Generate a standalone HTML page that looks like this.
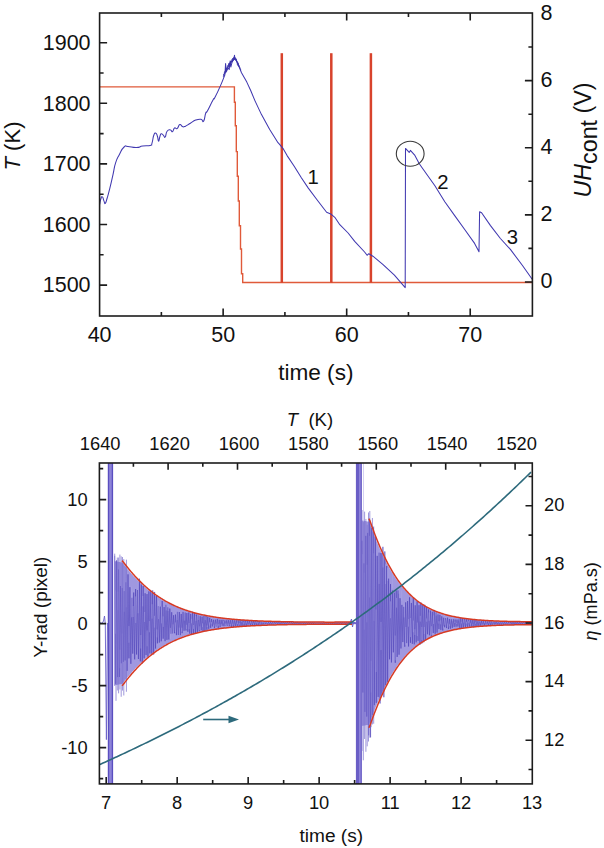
<!DOCTYPE html>
<html><head><meta charset="utf-8"><style>
html,body{margin:0;padding:0;background:#fff;}
body{width:604px;height:848px;overflow:hidden;font-family:"Liberation Sans",sans-serif;}
svg{display:block;}
</style></head><body>
<svg width="604" height="848" viewBox="0 0 604 848">
<rect width="604" height="848" fill="#fff"/>
<clipPath id="c1"><rect x="99.6" y="13.0" width="432.79999999999995" height="303.0"/></clipPath>
<g clip-path="url(#c1)">
<path d="M99.6 86.9 L234.4 86.9 L234.4 102.2 L235.3 102.2 L235.3 125.7 L236.3 125.7 L236.3 151.6 L237.3 151.6 L237.3 176.3 L238.3 176.3 L238.3 201 L239.3 201 L239.3 225.7 L240.5 225.7 L240.5 249 L241.5 249 L241.5 273.8 L242.7 273.8 L242.7 282.5 L243.8 282.5 L532.4 282.5" fill="none" stroke="#e05a3a" stroke-width="1.4"/>
<rect x="280.55" y="53.2" width="2.5" height="229.4" fill="#d8432c"/>
<rect x="330.05" y="53.2" width="2.5" height="229.4" fill="#d8432c"/>
<rect x="369.65" y="53.2" width="2.5" height="229.4" fill="#d8432c"/>
<path d="M99.7 204.3 C100.03 202.71 99.99 201.22 100.8 199 C101.61 196.78 101.44 196.27 102.4 196.9 C103.36 197.53 103.13 199.18 104 201.1 C104.87 203.02 104.34 204.23 105.3 203.3 C106.26 202.37 105.85 202.47 107.2 198 C108.55 193.53 108.06 195.42 109.8 188.4 C111.54 181.38 111.26 182.25 113 174.6 C114.74 166.95 113.68 168.96 115.6 162.9 C117.52 156.84 116.85 159.17 119.4 154.4 C121.95 149.63 121.55 149.37 124.1 147 C126.65 144.63 124.21 146.35 127.9 146.5 C131.59 146.65 131.96 147.62 136.4 147.5 C140.84 147.38 138.56 146.73 142.7 146.1 C146.84 145.47 147.41 146.3 150.2 145.4 C152.99 144.5 150.92 146.16 152 143.1 C153.08 140.04 152.63 138.14 153.8 135.2 C154.97 132.26 154.79 132.91 155.9 133.3 C157.01 133.69 156.69 134.1 157.5 136.5 C158.31 138.9 157.88 141.3 158.6 141.3 C159.32 141.3 159.12 138.75 159.9 136.5 C160.68 134.25 160.18 134.19 161.2 133.8 C162.22 133.41 162.1 134.24 163.3 135.2 C164.5 136.16 164.06 138.2 165.2 137 C166.34 135.8 165.51 133.33 167.1 131.2 C168.69 129.07 168.91 129.75 170.5 129.9 C172.09 130.05 171.2 132.27 172.4 131.7 C173.6 131.13 173.09 128.96 174.5 128 C175.91 127.04 175.51 129.52 177.1 128.5 C178.69 127.48 178.21 125.23 179.8 124.6 C181.39 123.97 180.81 125.86 182.4 126.4 C183.99 126.94 182.7 127.36 185.1 126.4 C187.5 125.44 187.22 125.09 190.4 123.2 C193.58 121.31 192.52 121.27 195.7 120.1 C198.88 118.93 198.63 119 201 119.3 C203.37 119.6 202.19 122.93 203.6 121.1 C205.01 119.27 204.56 116.26 205.7 113.2 C206.84 110.14 205.21 114.86 207.4 110.9 C209.59 106.94 210.72 104.08 213 100 C215.28 95.92 212.81 101.47 215 97.3 C217.19 93.13 217.33 92.85 220.3 86.1 C223.27 79.35 223.52 78.19 224.9 74.8" fill="none" stroke="#4038b0" stroke-width="1.05" stroke-linejoin="round"/>
<path d="M224.9 74.8 L225.6 63.5 L226.2 72 L228 68 L229.2 69.5 L230.2 60.9 L230.8 67 L232.2 61.6 L233.5 60 L234.5 55.3 L234.9 59.6 L236 60 L237.8 63.5 L241.5 72.8 L246.8 82.1 L250.8 90.7 L254.9 100.6 L261.5 114.6 L269.7 129.5 L278 142.7 L279.6 144.3 L283.5 149.2 L287.1 155.6 L294.2 166.2 L301.2 177.5 L308.3 188.1 L316.8 199.5 L326.6 212.3 L330.7 213.9 L334.8 217.3 L339.8 224.7 L348.1 233 L354.7 241.3 L364.6 252 L367.1 255.3 L368.8 253.7 L372.9 256.2 L382.8 264.4 L394.4 275.2 L405.2 287.6 L405.5 148.4 L409.2 152.4 L410.4 150.4 L414.9 155.4 L419.3 163.8 L422.8 168.8 L434.9 185.8 L444.8 201.7 L454.7 215.6 L464.7 229.5 L474.6 243.4 L479 251.8 L479.6 211.7 L481.6 212.7 L490.5 225.6 L500.4 238.5 L510.4 249.4 L522.3 265.3 L532.2 279.2" fill="none" stroke="#4038b0" stroke-width="1.05" stroke-linejoin="round"/>
<path d="M223 76.56 L223.35 76.87 L223.7 74.19 L224.05 74.91 L224.4 72.47 L224.75 74.15 L225.1 71.02 L225.45 72.76 L225.8 68.7 L226.15 70.98 L226.5 67.93 L226.85 69.47 L227.2 66.73 L227.55 68.45 L227.9 65.27 L228.25 67.43 L228.6 63.61 L228.95 66.64 L229.3 63 L229.65 65.86 L230 62.49 L230.35 63.96 L230.7 61.05 L231.05 62.79 L231.4 60.66 L231.75 62.29 L232.1 59.16 L232.45 61.79 L232.8 58.09 L233.15 60.55 L233.5 57.57 L233.85 59.72 L234.2 57.77 L234.55 59.48 L234.9 57.08 L235.25 59.91 L235.6 58.17 L235.95 60.67 L236.3 58.83 L236.65 62.17 L237 60.9 L237.35 64.47 L237.7 62.08 L238.05 65.79 L238.4 63.46 L238.75 66.65 L239.1 65.61 L239.45 67.61 L239.8 67.13 L240.15 68.95 L240.5 69.07 L240.85 70.18" fill="none" stroke="#3a32a8" stroke-width="0.8"/>
</g>
<ellipse cx="410.2" cy="153.8" rx="13.9" ry="12.5" fill="none" stroke="#3a3a3a" stroke-width="1.1"/>
<rect x="99.6" y="13.0" width="432.79999999999995" height="303.0" fill="none" stroke="#1c1c1c" stroke-width="1.6"/>
<path d="M99.6 285.1 h7.5 M99.6 254.8 h4 M99.6 224.5 h7.5 M99.6 194.2 h4 M99.6 163.9 h7.5 M99.6 133.6 h4 M99.6 103.3 h7.5 M99.6 73 h4 M99.6 42.7 h7.5 M532.4 281.98 h-7.5 M532.4 248.42 h-4 M532.4 214.86 h-7.5 M532.4 181.3 h-4 M532.4 147.74 h-7.5 M532.4 114.18 h-4 M532.4 80.62 h-7.5 M532.4 47.06 h-4 M161.37 316 v-4 M161.37 13 v4 M223.14 316 v-7.5 M223.14 13 v7.5 M284.91 316 v-4 M284.91 13 v4 M346.68 316 v-7.5 M346.68 13 v7.5 M408.45 316 v-4 M408.45 13 v4 M470.22 316 v-7.5 M470.22 13 v7.5" stroke="#1c1c1c" stroke-width="1.6" fill="none"/>
<g font-family="Liberation Sans, sans-serif" font-size="21.5" fill="#111">
<text x="90.6" y="292.3" text-anchor="end">1500</text>
<text x="90.6" y="231.7" text-anchor="end">1600</text>
<text x="90.6" y="171.1" text-anchor="end">1700</text>
<text x="90.6" y="110.5" text-anchor="end">1800</text>
<text x="90.6" y="49.9" text-anchor="end">1900</text>
<text x="540.5" y="288.38">0</text>
<text x="540.5" y="221.26">2</text>
<text x="540.5" y="154.14">4</text>
<text x="540.5" y="87.02">6</text>
<text x="540.5" y="19.9">8</text>
<text x="99.6" y="342.2" text-anchor="middle">40</text>
<text x="223.14" y="342.2" text-anchor="middle">50</text>
<text x="346.68" y="342.2" text-anchor="middle">60</text>
<text x="470.22" y="342.2" text-anchor="middle">70</text>
</g>
<g font-family="Liberation Sans, sans-serif" font-size="20.3" fill="#111">
<text x="313.2" y="184" text-anchor="middle">1</text><text x="442.9" y="188.6" text-anchor="middle">2</text><text x="512.5" y="243.6" text-anchor="middle">3</text>
</g>
<text font-family="Liberation Sans, sans-serif" font-size="22.6" fill="#111" x="315.8" y="379.5" text-anchor="middle">time (s)</text>
<text font-family="Liberation Sans, sans-serif" font-size="22.1" fill="#111" transform="translate(20.3 146) rotate(-90)" text-anchor="middle"><tspan font-style="italic">T</tspan> (K)</text>
<text font-family="Liberation Sans, sans-serif" font-size="23.3" fill="#111" transform="translate(591 140) rotate(-90)" text-anchor="middle"><tspan font-style="italic">UH</tspan><tspan dy="5.5">cont</tspan><tspan dy="-5.5"> (V)</tspan></text>
<clipPath id="c2"><rect x="99.4" y="463.0" width="432.9" height="320.9"/></clipPath>
<g clip-path="url(#c2)">
<path d="M99.6 623.2 L100.7 622.6 L102 623.5 L103.5 621 L104.5 616 L105.3 624 L106.4 739.6 L107.5 623" fill="none" stroke="#6a60c8" stroke-width="0.9"/>
<rect x="107.9" y="455" width="5.2" height="340" fill="#8d84d8"/>
<path d="M108.5 455 V795 M112.4 455 V795" stroke="#5a4ec0" stroke-width="1.3"/>
<path d="M114.7 561.1 L115.2 561.2 L115.7 561.29 L116.2 561.39 L116.7 561.49 L117.2 561.59 L117.7 561.68 L118.2 561.78 L118.7 561.88 L119.2 561.97 L119.7 562.07 L120.2 562.17 L120.7 562.26 L121.2 562.36 L121.7 562.46 L122.2 562.56 L122.7 563.09 L123.2 563.73 L123.7 564.37 L124.2 565.01 L124.7 565.64 L125.2 566.27 L125.7 566.89 L126.2 567.51 L126.7 568.12 L127.2 568.73 L127.7 569.33 L128.2 569.93 L128.7 570.52 L129.2 571.11 L129.7 571.69 L130.2 572.27 L130.7 572.85 L131.2 573.42 L131.7 573.98 L132.2 574.54 L132.7 575.1 L133.2 575.65 L133.7 576.19 L134.2 576.73 L134.7 577.27 L135.2 577.8 L135.7 578.32 L136.2 578.84 L136.7 579.36 L137.2 579.87 L137.7 580.38 L138.2 580.88 L138.7 581.38 L139.2 581.87 L139.7 582.36 L140.2 582.84 L140.7 583.32 L141.2 583.8 L141.7 584.27 L142.2 584.73 L142.7 585.19 L143.2 585.65 L143.7 586.1 L144.2 586.55 L144.7 586.99 L145.2 587.43 L145.7 587.86 L146.2 588.29 L146.7 588.72 L147.2 589.14 L147.7 589.55 L148.2 589.96 L148.7 590.37 L149.2 590.77 L149.7 591.17 L150.2 591.57 L150.7 591.96 L151.2 592.34 L151.7 592.73 L152.2 593.1 L152.7 593.48 L153.2 593.85 L153.7 594.21 L154.2 594.57 L154.7 594.93 L155.2 595.29 L155.7 595.64 L156.2 595.98 L156.7 596.32 L157.2 596.66 L157.7 597 L158.2 597.33 L158.7 597.65 L159.2 597.98 L159.7 598.3 L160.2 598.61 L160.7 598.92 L161.2 599.23 L161.7 599.54 L162.2 599.84 L162.7 600.14 L163.2 600.43 L163.7 600.72 L164.2 601.01 L164.7 601.29 L165.2 601.57 L165.7 601.85 L166.2 602.12 L166.7 602.39 L167.2 602.66 L167.7 602.93 L168.2 603.19 L168.7 603.45 L169.2 603.7 L169.7 603.95 L170.2 604.2 L170.7 604.45 L171.2 604.69 L171.7 604.93 L172.2 605.16 L172.7 605.4 L173.2 605.63 L173.7 605.86 L174.2 606.08 L174.7 606.3 L175.2 606.52 L175.7 606.74 L176.2 606.95 L176.7 607.16 L177.2 607.37 L177.7 607.58 L178.2 607.78 L178.7 607.98 L179.2 608.18 L179.7 608.38 L180.2 608.57 L180.7 608.76 L181.2 608.95 L181.7 609.13 L182.2 609.32 L182.7 609.5 L183.2 609.68 L183.7 609.85 L184.2 610.03 L184.7 610.2 L185.2 610.37 L185.7 610.53 L186.2 610.7 L186.7 610.86 L187.2 611.02 L187.7 611.18 L188.2 611.34 L188.7 611.49 L189.2 611.64 L189.7 611.8 L190.2 611.94 L190.7 612.09 L191.2 612.23 L191.7 612.38 L192.2 612.52 L192.7 612.66 L193.2 612.79 L193.7 612.93 L194.2 613.06 L194.7 613.19 L195.2 613.32 L195.7 613.45 L196.2 613.58 L196.7 613.7 L197.2 613.82 L197.7 613.95 L198.2 614.06 L198.7 614.18 L199.2 614.3 L199.7 614.41 L200.2 614.53 L200.7 614.64 L201.2 614.75 L201.7 614.86 L202.2 614.96 L202.7 615.07 L203.2 615.17 L203.7 615.28 L204.2 615.38 L204.7 615.48 L205.2 615.58 L205.7 615.67 L206.2 615.77 L206.7 615.86 L207.2 615.96 L207.7 616.05 L208.2 616.14 L208.7 616.23 L209.2 616.32 L209.7 616.4 L210.2 616.49 L210.7 616.58 L211.2 616.66 L211.7 616.74 L212.2 616.82 L212.7 616.9 L213.2 616.98 L213.7 617.06 L214.2 617.14 L214.7 617.21 L215.2 617.29 L215.7 617.36 L216.2 617.43 L216.7 617.5 L217.2 617.57 L217.7 617.64 L218.2 617.71 L218.7 617.78 L219.2 617.85 L219.7 617.91 L220.2 617.98 L220.7 618.04 L221.2 618.1 L221.7 618.16 L222.2 618.23 L222.7 618.29 L223.2 618.35 L223.7 618.4 L224.2 618.46 L224.7 618.52 L225.2 618.58 L225.7 618.63 L226.2 618.69 L226.7 618.74 L227.2 618.79 L227.7 618.84 L228.2 618.9 L228.7 618.95 L229.2 619 L229.7 619.05 L230.2 619.1 L230.7 619.14 L231.2 619.19 L231.7 619.24 L232.2 619.28 L232.7 619.33 L233.2 619.37 L233.7 619.42 L234.2 619.46 L234.7 619.5 L235.2 619.55 L235.7 619.59 L236.2 619.63 L236.7 619.67 L237.2 619.71 L237.7 619.75 L238.2 619.79 L238.7 619.83 L239.2 619.86 L239.7 619.9 L240.2 619.94 L240.7 619.97 L241.2 620.01 L241.7 620.05 L242.2 620.08 L242.7 620.11 L243.2 620.15 L243.7 620.18 L244.2 620.21 L244.7 620.25 L245.2 620.28 L245.7 620.31 L246.2 620.34 L246.7 620.37 L247.2 620.4 L247.7 620.43 L248.2 620.46 L248.7 620.49 L249.2 620.52 L249.7 620.54 L250.2 620.57 L250.7 620.6 L251.2 620.63 L251.7 620.65 L252.2 620.68 L252.7 620.7 L253.2 620.73 L253.7 620.75 L254.2 620.78 L254.7 620.8 L255.2 620.83 L255.7 620.85 L256.2 620.87 L256.7 620.9 L257.2 620.92 L257.7 620.94 L258.2 620.96 L258.7 620.98 L259.2 621.01 L259.7 621.03 L260.2 621.05 L260.7 621.07 L261.2 621.09 L261.7 621.11 L262.2 621.13 L262.7 621.15 L263.2 621.17 L263.7 621.18 L264.2 621.2 L264.7 621.22 L265.2 621.24 L265.7 621.26 L266.2 621.27 L266.7 621.29 L267.2 621.31 L267.7 621.32 L268.2 621.34 L268.7 621.36 L269.2 621.37 L269.7 621.39 L270.2 621.4 L270.7 621.42 L271.2 621.43 L271.7 621.45 L272.2 621.46 L272.7 621.48 L273.2 621.49 L273.7 621.5 L274.2 621.52 L274.7 621.53 L275.2 621.55 L275.7 621.56 L276.2 621.57 L276.7 621.58 L277.2 621.6 L277.7 621.61 L278.2 621.62 L278.7 621.63 L279.2 621.64 L279.7 621.66 L280.2 621.67 L280.7 621.68 L281.2 621.69 L281.7 621.7 L282.2 621.71 L282.7 621.72 L283.2 621.73 L283.7 621.74 L284.2 621.75 L284.7 621.76 L285.2 621.77 L285.7 621.78 L286.2 621.79 L286.7 621.8 L287.2 621.81 L287.7 621.82 L288.2 621.83 L288.7 621.84 L289.2 621.85 L289.7 621.85 L290.2 621.86 L290.7 621.87 L291.2 621.88 L291.7 621.89 L292.2 621.89 L292.7 621.9 L293.2 621.91 L293.7 621.92 L294.2 621.92 L294.7 621.93 L295.2 621.94 L295.7 621.94 L296.2 621.95 L296.7 621.96 L297.2 621.96 L297.7 621.97 L298.2 621.98 L298.7 621.98 L299.2 621.99 L299.7 621.99 L300.2 622 L300.7 622.01 L301.2 622.01 L301.7 622.02 L302.2 622.02 L302.7 622.03 L303.2 622.03 L303.7 622.04 L304.2 622.04 L304.7 622.05 L305.2 622.05 L305.7 622.06 L306.2 622.06 L306.7 622.07 L307.2 622.07 L307.7 622.07 L308.2 622.08 L308.7 622.08 L309.2 622.09 L309.7 622.09 L310.2 622.09 L310.7 622.1 L311.2 622.1 L311.7 622.1 L312.2 622.11 L312.7 622.11 L313.2 622.11 L313.7 622.12 L314.2 622.12 L314.7 622.12 L315.2 622.12 L315.7 622.13 L316.2 622.13 L316.7 622.13 L317.2 622.13 L317.7 622.14 L318.2 622.14 L318.7 622.14 L319.2 622.14 L319.7 622.14 L320.2 622.15 L320.7 622.15 L321.2 622.15 L321.7 622.15 L322.2 622.15 L322.7 622.15 L323.2 622.15 L323.7 622.16 L324.2 622.16 L324.7 622.16 L325.2 622.16 L325.7 622.16 L326.2 622.16 L326.7 622.16 L327.2 622.16 L327.7 622.16 L328.2 622.16 L328.7 622.16 L329.2 622.16 L329.7 622.16 L330.2 622.16 L330.7 622.16 L331.2 622.16 L331.7 622.16 L332.2 622.16 L332.7 622.16 L333.2 622.16 L333.7 622.16 L334.2 622.16 L334.7 622.16 L335.2 622.16 L335.7 622.15 L336.2 622.15 L336.7 622.15 L337.2 622.15 L337.7 622.15 L338.2 622.15 L338.7 622.15 L339.2 622.14 L339.7 622.14 L340.2 622.14 L340.7 622.14 L341.2 622.14 L341.7 622.13 L342.2 622.13 L342.7 622.13 L343.2 622.13 L343.7 622.12 L344.2 622.12 L344.7 622.12 L345.2 622.11 L345.7 622.11 L346.2 622.11 L346.7 622.1 L347.2 622.1 L347.7 622.1 L348.2 622.09 L348.7 622.09 L349.2 622.08 L349.7 622.08 L350.2 622.08 L350.7 622.08 L351.2 622.08 L351.7 622.08 L352.2 622.08 L352.7 622.08 L353.2 622.08 L353.7 622.08 L354.2 622.08 L354.7 622.08 L355.2 622.08 L355.7 622.08 L356.2 622.08 L356.7 622.08 L356.7 624.32 L356.2 624.32 L355.7 624.32 L355.2 624.32 L354.7 624.32 L354.2 624.32 L353.7 624.32 L353.2 624.32 L352.7 624.32 L352.2 624.32 L351.7 624.32 L351.2 624.32 L350.7 624.32 L350.2 624.32 L349.7 624.32 L349.2 624.32 L348.7 624.31 L348.2 624.31 L347.7 624.3 L347.2 624.3 L346.7 624.3 L346.2 624.29 L345.7 624.29 L345.2 624.29 L344.7 624.28 L344.2 624.28 L343.7 624.28 L343.2 624.27 L342.7 624.27 L342.2 624.27 L341.7 624.27 L341.2 624.26 L340.7 624.26 L340.2 624.26 L339.7 624.26 L339.2 624.26 L338.7 624.25 L338.2 624.25 L337.7 624.25 L337.2 624.25 L336.7 624.25 L336.2 624.25 L335.7 624.25 L335.2 624.24 L334.7 624.24 L334.2 624.24 L333.7 624.24 L333.2 624.24 L332.7 624.24 L332.2 624.24 L331.7 624.24 L331.2 624.24 L330.7 624.24 L330.2 624.24 L329.7 624.24 L329.2 624.24 L328.7 624.24 L328.2 624.24 L327.7 624.24 L327.2 624.24 L326.7 624.24 L326.2 624.24 L325.7 624.24 L325.2 624.24 L324.7 624.24 L324.2 624.24 L323.7 624.24 L323.2 624.25 L322.7 624.25 L322.2 624.25 L321.7 624.25 L321.2 624.25 L320.7 624.25 L320.2 624.25 L319.7 624.26 L319.2 624.26 L318.7 624.26 L318.2 624.26 L317.7 624.26 L317.2 624.27 L316.7 624.27 L316.2 624.27 L315.7 624.27 L315.2 624.28 L314.7 624.28 L314.2 624.28 L313.7 624.28 L313.2 624.29 L312.7 624.29 L312.2 624.29 L311.7 624.3 L311.2 624.3 L310.7 624.3 L310.2 624.31 L309.7 624.31 L309.2 624.31 L308.7 624.32 L308.2 624.32 L307.7 624.33 L307.2 624.33 L306.7 624.33 L306.2 624.34 L305.7 624.34 L305.2 624.35 L304.7 624.35 L304.2 624.36 L303.7 624.36 L303.2 624.37 L302.7 624.37 L302.2 624.38 L301.7 624.38 L301.2 624.39 L300.7 624.39 L300.2 624.4 L299.7 624.41 L299.2 624.41 L298.7 624.42 L298.2 624.42 L297.7 624.43 L297.2 624.44 L296.7 624.44 L296.2 624.45 L295.7 624.46 L295.2 624.46 L294.7 624.47 L294.2 624.48 L293.7 624.48 L293.2 624.49 L292.7 624.5 L292.2 624.51 L291.7 624.51 L291.2 624.52 L290.7 624.53 L290.2 624.54 L289.7 624.55 L289.2 624.55 L288.7 624.56 L288.2 624.57 L287.7 624.58 L287.2 624.59 L286.7 624.6 L286.2 624.61 L285.7 624.62 L285.2 624.63 L284.7 624.64 L284.2 624.65 L283.7 624.66 L283.2 624.67 L282.7 624.68 L282.2 624.69 L281.7 624.7 L281.2 624.71 L280.7 624.72 L280.2 624.73 L279.7 624.74 L279.2 624.76 L278.7 624.77 L278.2 624.78 L277.7 624.79 L277.2 624.8 L276.7 624.82 L276.2 624.83 L275.7 624.84 L275.2 624.85 L274.7 624.87 L274.2 624.88 L273.7 624.9 L273.2 624.91 L272.7 624.92 L272.2 624.94 L271.7 624.95 L271.2 624.97 L270.7 624.98 L270.2 625 L269.7 625.01 L269.2 625.03 L268.7 625.04 L268.2 625.06 L267.7 625.08 L267.2 625.09 L266.7 625.11 L266.2 625.13 L265.7 625.14 L265.2 625.16 L264.7 625.18 L264.2 625.2 L263.7 625.22 L263.2 625.23 L262.7 625.25 L262.2 625.27 L261.7 625.29 L261.2 625.31 L260.7 625.33 L260.2 625.35 L259.7 625.37 L259.2 625.39 L258.7 625.42 L258.2 625.44 L257.7 625.46 L257.2 625.48 L256.7 625.5 L256.2 625.53 L255.7 625.55 L255.2 625.57 L254.7 625.6 L254.2 625.62 L253.7 625.65 L253.2 625.67 L252.7 625.7 L252.2 625.72 L251.7 625.75 L251.2 625.77 L250.7 625.8 L250.2 625.83 L249.7 625.86 L249.2 625.88 L248.7 625.91 L248.2 625.94 L247.7 625.97 L247.2 626 L246.7 626.03 L246.2 626.06 L245.7 626.09 L245.2 626.12 L244.7 626.15 L244.2 626.19 L243.7 626.22 L243.2 626.25 L242.7 626.29 L242.2 626.32 L241.7 626.35 L241.2 626.39 L240.7 626.43 L240.2 626.46 L239.7 626.5 L239.2 626.54 L238.7 626.57 L238.2 626.61 L237.7 626.65 L237.2 626.69 L236.7 626.73 L236.2 626.77 L235.7 626.81 L235.2 626.85 L234.7 626.9 L234.2 626.94 L233.7 626.98 L233.2 627.03 L232.7 627.07 L232.2 627.12 L231.7 627.16 L231.2 627.21 L230.7 627.26 L230.2 627.3 L229.7 627.35 L229.2 627.4 L228.7 627.45 L228.2 627.5 L227.7 627.56 L227.2 627.61 L226.7 627.66 L226.2 627.71 L225.7 627.77 L225.2 627.82 L224.7 627.88 L224.2 627.94 L223.7 628 L223.2 628.05 L222.7 628.11 L222.2 628.17 L221.7 628.24 L221.2 628.3 L220.7 628.36 L220.2 628.42 L219.7 628.49 L219.2 628.55 L218.7 628.62 L218.2 628.69 L217.7 628.76 L217.2 628.83 L216.7 628.9 L216.2 628.97 L215.7 629.04 L215.2 629.11 L214.7 629.19 L214.2 629.26 L213.7 629.34 L213.2 629.42 L212.7 629.5 L212.2 629.58 L211.7 629.66 L211.2 629.74 L210.7 629.82 L210.2 629.91 L209.7 630 L209.2 630.08 L208.7 630.17 L208.2 630.26 L207.7 630.35 L207.2 630.44 L206.7 630.54 L206.2 630.63 L205.7 630.73 L205.2 630.82 L204.7 630.92 L204.2 631.02 L203.7 631.12 L203.2 631.23 L202.7 631.33 L202.2 631.44 L201.7 631.54 L201.2 631.65 L200.7 631.76 L200.2 631.87 L199.7 631.99 L199.2 632.1 L198.7 632.22 L198.2 632.34 L197.7 632.45 L197.2 632.58 L196.7 632.7 L196.2 632.82 L195.7 632.95 L195.2 633.08 L194.7 633.21 L194.2 633.34 L193.7 633.47 L193.2 633.61 L192.7 633.74 L192.2 633.88 L191.7 634.02 L191.2 634.17 L190.7 634.31 L190.2 634.46 L189.7 634.6 L189.2 634.76 L188.7 634.91 L188.2 635.06 L187.7 635.22 L187.2 635.38 L186.7 635.54 L186.2 635.7 L185.7 635.87 L185.2 636.03 L184.7 636.2 L184.2 636.37 L183.7 636.55 L183.2 636.72 L182.7 636.9 L182.2 637.08 L181.7 637.27 L181.2 637.45 L180.7 637.64 L180.2 637.83 L179.7 638.02 L179.2 638.22 L178.7 638.42 L178.2 638.62 L177.7 638.82 L177.2 639.03 L176.7 639.24 L176.2 639.45 L175.7 639.66 L175.2 639.88 L174.7 640.1 L174.2 640.32 L173.7 640.54 L173.2 640.77 L172.7 641 L172.2 641.24 L171.7 641.47 L171.2 641.71 L170.7 641.95 L170.2 642.2 L169.7 642.45 L169.2 642.7 L168.7 642.95 L168.2 643.21 L167.7 643.47 L167.2 643.74 L166.7 644.01 L166.2 644.28 L165.7 644.55 L165.2 644.83 L164.7 645.11 L164.2 645.39 L163.7 645.68 L163.2 645.97 L162.7 646.26 L162.2 646.56 L161.7 646.86 L161.2 647.17 L160.7 647.48 L160.2 647.79 L159.7 648.1 L159.2 648.42 L158.7 648.75 L158.2 649.07 L157.7 649.4 L157.2 649.74 L156.7 650.08 L156.2 650.42 L155.7 650.76 L155.2 651.11 L154.7 651.47 L154.2 651.83 L153.7 652.19 L153.2 652.55 L152.7 652.92 L152.2 653.3 L151.7 653.67 L151.2 654.06 L150.7 654.44 L150.2 654.83 L149.7 655.23 L149.2 655.63 L148.7 656.03 L148.2 656.44 L147.7 656.85 L147.2 657.26 L146.7 657.68 L146.2 658.11 L145.7 658.54 L145.2 658.97 L144.7 659.41 L144.2 659.85 L143.7 660.3 L143.2 660.75 L142.7 661.21 L142.2 661.67 L141.7 662.13 L141.2 662.6 L140.7 663.08 L140.2 663.56 L139.7 664.04 L139.2 664.53 L138.7 665.02 L138.2 665.52 L137.7 666.02 L137.2 666.53 L136.7 667.04 L136.2 667.56 L135.7 668.08 L135.2 668.6 L134.7 669.13 L134.2 669.67 L133.7 670.21 L133.2 670.75 L132.7 671.3 L132.2 671.86 L131.7 672.42 L131.2 672.98 L130.7 673.55 L130.2 674.13 L129.7 674.71 L129.2 675.29 L128.7 675.88 L128.2 676.47 L127.7 677.07 L127.2 677.67 L126.7 678.28 L126.2 678.89 L125.7 679.51 L125.2 680.13 L124.7 680.76 L124.2 681.39 L123.7 682.03 L123.2 682.67 L122.7 683.31 L122.2 683.84 L121.7 683.94 L121.2 684.04 L120.7 684.14 L120.2 684.23 L119.7 684.33 L119.2 684.43 L118.7 684.52 L118.2 684.62 L117.7 684.72 L117.2 684.81 L116.7 684.91 L116.2 685.01 L115.7 685.11 L115.2 685.2 L114.7 685.3 Z" fill="#a098e0"/>
<path d="M114.7 555.79 L115.65 683.81 L116.6 560.37 L117.55 677.05 L118.5 569.55 L119.45 677 L120.4 586.07 L121.35 663.24 L122.3 588.05 L123.25 661.8 L124.2 591.12 L125.15 660.42 L126.1 582.29 L127.05 670.91 L128 574.32 L128.95 658.37 L129.9 587.19 L130.85 663.77 L131.8 597.81 L132.75 653.63 L133.7 592.54 L134.65 659.37 L135.6 589 L136.55 654.53 L137.5 590 L138.45 659.01 L139.4 578.67 L140.35 661.24 L141.3 584.46 L142.25 663.65 L143.2 585.93 L144.15 658.28 L145.1 593.26 L146.05 655.04 L147 594.07 L147.95 656.74 L148.9 591.37 L149.85 653.38 L150.8 590.34 L151.75 653.71 L152.7 590.39 L153.65 654.52 L154.6 591.95 L155.55 648.55 L156.5 595.72 L157.45 643.34 L158.4 606.05 L159.35 642.58 L160.3 606.63 L161.25 641.27 L162.2 601 L163.15 638.71 L164.1 607.06 L165.05 641.18 L166 604.75 L166.95 639.9 L167.9 607.37 L168.85 639.55 L169.8 608.56 L170.75 633.73 L171.7 612.22 L172.65 633.47 L173.6 615.2 L174.55 633.25 L175.5 614.59 L176.45 635.13 L177.4 611.81 L178.35 634.99 L179.3 612.01 L180.25 635.13 L181.2 613.97 L182.15 633.16 L183.1 611.92 L184.05 630.79 L185 612.49 L185.95 630.54 L186.9 613.01 L187.85 631.77 L188.8 612.47 L189.75 633.69 L190.7 613.99 L191.65 635.05 L192.6 611.64 L193.55 634.23 L194.5 612.74 L195.45 633.22 L196.4 614.56 L197.35 633 L198.3 615.39 L199.25 631 L200.2 616.25 L201.15 630.2 L202.1 616.66 L203.05 631.74 L204 615.67 L204.95 631.48 L205.9 615.8 L206.85 629.77 L207.8 616.86 L208.75 628.82 L209.7 617.82 L210.65 627.79 L211.6 619.01 L212.55 626.45 L213.5 619.77 L214.45 627.99 L215.4 619.63 L216.35 626.68 L217.3 618.89 L218.25 628.08 L219.2 619.82 L220.15 627.04 L221.1 619.8 L222.05 625.8 L223 619.73 L223.95 626.1 L224.9 620.41 L225.85 625.6 L226.8 620.23 L227.75 625.92 L228.7 620.12 L229.65 626.11 L230.6 620.15 L231.55 627.3 L232.5 619.75 L233.45 626.87 L234.4 619.78 L235.35 626.32 L236.3 620.27 L237.25 626.36 L238.2 620.42 L239.15 626.01 L240.1 620.29 L241.05 626.54 L242 619.91 L242.95 626.49 L243.9 620.13 L244.85 626.03 L245.8 620.05 L246.75 626.29 L247.7 620.45 L248.65 625.91 L249.6 620.64 L250.55 625.6 L251.5 620.91 L252.45 625.1 L253.4 620.87 L254.35 624.91 L255.3 621 L256.25 625.34 L257.2 621 L258.15 625.55 L259.1 621.04 L260.05 624.7 L261 621.96 L261.95 624.77 L262.9 622.12 L263.85 624.37 L264.8 621.93 L265.75 624.02 L266.7 622.43 L267.65 624.46 L268.6 621.91 L269.55 624.5 L270.5 621.82 L271.45 624.44 L272.4 622.09 L273.35 624.47 L274.3 622.12 L275.25 624.11 L276.2 622.01 L277.15 624.28 L278.1 622.03 L279.05 624.21 L280 622.07 L280.95 624.37 L281.9 621.94 L282.85 624.68 L283.8 621.82 L284.75 624.73 L285.7 621.7 L286.65 624.73 L287.6 622.04 L288.55 624.58 L289.5 622 L290.45 624.38 L291.4 622.2 L292.35 624.34 L293.3 621.89 L294.25 624.45 L295.2 621.9 L296.15 624.47 L297.1 621.85 L298.05 624.44 L299 622.27 L299.95 624.22 L300.9 622.41 L301.85 623.76 L302.8 622.4 L303.75 624.16 L304.7 622.4 L305.65 623.88 L306.6 622.48 L307.55 624.17 L308.5 622.31 L309.45 624.09 L310.4 622.34 L311.35 624.04 L312.3 622.33 L313.25 623.99 L314.2 622.5 L315.15 623.73 L316.1 622.54 L317.05 623.74 L318 622.46 L318.95 623.75 L319.9 622.48 L320.85 624 L321.8 622.48 L322.75 624.26 L323.7 622.15 L324.65 624.06 L325.6 622.24 L326.55 624.1 L327.5 622.62 L328.45 624.04 L329.4 622.38 L330.35 624.05 L331.3 622.42 L332.25 624.12 L333.2 622.21 L334.15 624.34 L335.1 622.06 L336.05 624.34 L337 622.05 L337.95 624.26 L338.9 622.17 L339.85 624.04 L340.8 622.07 L341.75 624.23 L342.7 622.19 L343.65 624.18 L344.6 622.25 L345.55 624.19 L346.5 622.22 L347.45 624.22 L348.4 622.14 L349.35 624.4 L350.3 622.13 L351.25 624.15 L352.2 622.38 L353.15 623.94 L354.1 622.29 L355.05 623.95 L356 622.52 L356.95 623.84" fill="none" stroke="#4e42b8" stroke-width="0.8" opacity="0.75"/>
<path d="M115.42 590.33 V633.74 M117.92 591.61 V610.17 M120.06 649.68 V668.27 M122.31 633.57 V677.64 M124.02 567.52 V611.86 M126.32 577.83 V607.22 M128.95 626.05 V642.71 M131.71 586.57 V617.34 M133.17 606.08 V617.06 M135.71 596.4 V623.06 M138.16 581.98 V613.22 M140.89 635.02 V648.53 M142.69 595.97 V606.45 M144.63 611.97 V621.92 M147.08 630.51 V646.31 M149.38 621.1 V632.32 M152.03 604.18 V618.61 M154.43 615.82 V627.6 M156.89 629.39 V637.44 M158.54 600.79 V619.16 M161.64 606.56 V623.39 M163.21 616.34 V626.92 M166.21 602.62 V610.43 M168.2 604.41 V611.01 M170.37 627.76 V639.12 M173.03 624.4 V634.5 M175.35 622.41 V632.16 M177.1 610.65 V620.13 M179.27 627.65 V635.37 M181.73 627.72 V631.75 M184.21 611.35 V620.63 M186.58 624.8 V629.16 M189.1 623.01 V629.25 M191.55 618.79 V623.36 M193.59 625 V628.9 M195.87 616.12 V620.88 M198.27 614.65 V619.96 M199.82 626.29 V630.21 M202.51 623.27 V627.16 M205.13 616.26 V620.05 M207.26 625.47 V627.11 M209.45 622.38 V625.73 M211.37 622.06 V624.15 M213.8 624.65 V626.54 M216.35 623.5 V626.78 M218.75 623.92 V626.34 M221.12 623.97 V626.81 M223.44 621.05 V623.44 M225.5 623.4 V625.25 M227.87 623.46 V625.48 M230.04 623.87 V625.53 M232.84 623.6 V625.28 M235.01 619.6 V621.09 M237.46 622.53 V624.24 M239.56 623.03 V624.7 M241.62 620.78 V621.91 M243.79 621.97 V624.14 M246.15 622.1 V623.24 M248.68 624.11 V625.92 M250.78 621.52 V623.24 M253.19 623.1 V623.7 M255.87 621.84 V622.92 M257.5 622.24 V623.67 M260.43 622.46 V623.75 M262.36 622.18 V623.19 M264.4 622.06 V623.19 M267.27 621.41 V622.51 M269.62 622.5 V622.93 M271.78 622.02 V622.96 M273.78 623.01 V623.59 M276.18 622.75 V623.62 M278.2 623.76 V624.33 M280.61 622.19 V622.56 M283.02 623.32 V624.16 M285.1 622.01 V622.54 M287.97 622.75 V623.69 M290.16 623.02 V623.83 M292.55 622.5 V622.94 M294.54 622.79 V623.14 M296.84 623.07 V623.41 M298.84 622.25 V622.68 M301.96 622.03 V622.38 M303.47 622.8 V623.05 M306.06 622.29 V622.69 M308.69 622.34 V622.93 M310.61 622.73 V623.42 M312.66 623.53 V624.26 M315.47 622.17 V622.76 M317.7 623.29 V623.63 M320.35 623.46 V623.74 M322.02 622.17 V622.83 M324.92 623.61 V624.16 M326.97 623.15 V623.67 M329.55 623.04 V623.43 M331.41 622.16 V622.76 M333.89 622.76 V623.43 M336.26 622.63 V622.89 M337.93 622.4 V622.78 M340.55 623.53 V623.9 M343.3 623.15 V623.84 M345.1 622.09 V622.75 M347.25 622.29 V622.97 M349.99 622.39 V622.77 M352.54 622.48 V623.12 M354.03 623.36 V623.66 M356.72 622.1 V622.65" stroke="#b0a9ea" stroke-width="0.8" opacity="0.6"/>
<path d="M114.7 553.66 V685.91 M116 561.97 V700.84 M117.3 557.55 V690.48 M118.6 557.53 V693.34 M119.9 554.57 V689.49 M121.2 556.3 V696.74 M122.5 557.04 V690.57 M123.8 559.09 V695.48 M125.1 565.25 V679.62 M126.4 559.65 V691.78" stroke="#7a70cf" stroke-width="0.9" opacity="0.8"/>
<path d="M349 623.3 L350.5 621.5 L351.5 619 L352.5 627 L353.5 622.5 L355 623.2" fill="none" stroke="#6a60c8" stroke-width="0.9"/>
<rect x="355.9" y="455" width="6" height="340" fill="#6a5ec6"/>
<path d="M359.9 455 V795" stroke="#ada5e6" stroke-width="0.9"/>
<path d="M363.5 455 V600" stroke="#b8b2ea" stroke-width="0.6"/>
<path d="M362 520.44 L362.5 520.54 L363 520.63 L363.5 520.73 L364 520.83 L364.5 520.92 L365 521.02 L365.5 521.12 L366 521.21 L366.5 521.31 L367 521.41 L367.5 521.51 L368 521.6 L368.5 521.7 L369 521.8 L369.5 522.7 L370 524.1 L370.5 525.48 L371 526.85 L371.5 528.21 L372 529.55 L372.5 530.88 L373 532.2 L373.5 533.5 L374 534.79 L374.5 536.07 L375 537.33 L375.5 538.58 L376 539.82 L376.5 541.04 L377 542.25 L377.5 543.44 L378 544.62 L378.5 545.79 L379 546.95 L379.5 548.09 L380 549.22 L380.5 550.33 L381 551.43 L381.5 552.52 L382 553.6 L382.5 554.66 L383 555.71 L383.5 556.75 L384 557.77 L384.5 558.78 L385 559.78 L385.5 560.76 L386 561.74 L386.5 562.7 L387 563.64 L387.5 564.58 L388 565.5 L388.5 566.41 L389 567.31 L389.5 568.2 L390 569.07 L390.5 569.93 L391 570.78 L391.5 571.62 L392 572.45 L392.5 573.26 L393 574.07 L393.5 574.86 L394 575.64 L394.5 576.41 L395 577.17 L395.5 577.92 L396 578.66 L396.5 579.39 L397 580.1 L397.5 580.81 L398 581.5 L398.5 582.19 L399 582.86 L399.5 583.53 L400 584.18 L400.5 584.83 L401 585.46 L401.5 586.09 L402 586.71 L402.5 587.31 L403 587.91 L403.5 588.5 L404 589.08 L404.5 589.65 L405 590.21 L405.5 590.76 L406 591.31 L406.5 591.84 L407 592.37 L407.5 592.89 L408 593.4 L408.5 593.9 L409 594.39 L409.5 594.88 L410 595.36 L410.5 595.83 L411 596.29 L411.5 596.74 L412 597.19 L412.5 597.63 L413 598.06 L413.5 598.49 L414 598.91 L414.5 599.32 L415 599.73 L415.5 600.12 L416 600.52 L416.5 600.9 L417 601.28 L417.5 601.65 L418 602.02 L418.5 602.38 L419 602.73 L419.5 603.08 L420 603.42 L420.5 603.76 L421 604.09 L421.5 604.41 L422 604.73 L422.5 605.05 L423 605.35 L423.5 605.66 L424 605.96 L424.5 606.25 L425 606.54 L425.5 606.82 L426 607.1 L426.5 607.37 L427 607.64 L427.5 607.9 L428 608.16 L428.5 608.41 L429 608.66 L429.5 608.91 L430 609.15 L430.5 609.38 L431 609.62 L431.5 609.85 L432 610.07 L432.5 610.29 L433 610.51 L433.5 610.72 L434 610.93 L434.5 611.13 L435 611.33 L435.5 611.53 L436 611.73 L436.5 611.92 L437 612.11 L437.5 612.29 L438 612.47 L438.5 612.65 L439 612.82 L439.5 612.99 L440 613.16 L440.5 613.33 L441 613.49 L441.5 613.65 L442 613.8 L442.5 613.96 L443 614.11 L443.5 614.26 L444 614.4 L444.5 614.54 L445 614.68 L445.5 614.82 L446 614.96 L446.5 615.09 L447 615.22 L447.5 615.35 L448 615.47 L448.5 615.6 L449 615.72 L449.5 615.84 L450 615.95 L450.5 616.07 L451 616.18 L451.5 616.29 L452 616.4 L452.5 616.5 L453 616.61 L453.5 616.71 L454 616.81 L454.5 616.91 L455 617.01 L455.5 617.1 L456 617.2 L456.5 617.29 L457 617.38 L457.5 617.47 L458 617.55 L458.5 617.64 L459 617.72 L459.5 617.8 L460 617.88 L460.5 617.96 L461 618.04 L461.5 618.12 L462 618.19 L462.5 618.27 L463 618.34 L463.5 618.41 L464 618.48 L464.5 618.55 L465 618.61 L465.5 618.68 L466 618.74 L466.5 618.81 L467 618.87 L467.5 618.93 L468 618.99 L468.5 619.05 L469 619.11 L469.5 619.16 L470 619.22 L470.5 619.27 L471 619.33 L471.5 619.38 L472 619.43 L472.5 619.48 L473 619.53 L473.5 619.58 L474 619.63 L474.5 619.68 L475 619.72 L475.5 619.77 L476 619.81 L476.5 619.86 L477 619.9 L477.5 619.94 L478 619.98 L478.5 620.02 L479 620.06 L479.5 620.1 L480 620.14 L480.5 620.18 L481 620.22 L481.5 620.25 L482 620.29 L482.5 620.32 L483 620.36 L483.5 620.39 L484 620.42 L484.5 620.46 L485 620.49 L485.5 620.52 L486 620.55 L486.5 620.58 L487 620.61 L487.5 620.64 L488 620.67 L488.5 620.7 L489 620.72 L489.5 620.75 L490 620.78 L490.5 620.8 L491 620.83 L491.5 620.85 L492 620.88 L492.5 620.9 L493 620.92 L493.5 620.95 L494 620.97 L494.5 620.99 L495 621.01 L495.5 621.03 L496 621.06 L496.5 621.08 L497 621.1 L497.5 621.12 L498 621.13 L498.5 621.15 L499 621.17 L499.5 621.19 L500 621.21 L500.5 621.23 L501 621.24 L501.5 621.26 L502 621.28 L502.5 621.29 L503 621.31 L503.5 621.32 L504 621.34 L504.5 621.35 L505 621.37 L505.5 621.38 L506 621.39 L506.5 621.41 L507 621.42 L507.5 621.43 L508 621.45 L508.5 621.46 L509 621.47 L509.5 621.48 L510 621.49 L510.5 621.51 L511 621.52 L511.5 621.53 L512 621.54 L512.5 621.55 L513 621.56 L513.5 621.57 L514 621.58 L514.5 621.59 L515 621.59 L515.5 621.6 L516 621.61 L516.5 621.62 L517 621.63 L517.5 621.64 L518 621.64 L518.5 621.65 L519 621.66 L519.5 621.66 L520 621.67 L520.5 621.68 L521 621.68 L521.5 621.69 L522 621.69 L522.5 621.7 L523 621.7 L523.5 621.71 L524 621.71 L524.5 621.72 L525 621.72 L525.5 621.73 L526 621.73 L526.5 621.74 L527 621.74 L527.5 621.74 L528 621.75 L528.5 621.75 L529 621.75 L529.5 621.75 L530 621.76 L530.5 621.76 L531 621.76 L531.5 621.76 L532 621.76 L532 624.64 L531.5 624.64 L531 624.64 L530.5 624.64 L530 624.64 L529.5 624.65 L529 624.65 L528.5 624.65 L528 624.65 L527.5 624.66 L527 624.66 L526.5 624.66 L526 624.67 L525.5 624.67 L525 624.68 L524.5 624.68 L524 624.69 L523.5 624.69 L523 624.7 L522.5 624.7 L522 624.71 L521.5 624.71 L521 624.72 L520.5 624.72 L520 624.73 L519.5 624.74 L519 624.74 L518.5 624.75 L518 624.76 L517.5 624.76 L517 624.77 L516.5 624.78 L516 624.79 L515.5 624.8 L515 624.81 L514.5 624.81 L514 624.82 L513.5 624.83 L513 624.84 L512.5 624.85 L512 624.86 L511.5 624.87 L511 624.88 L510.5 624.89 L510 624.91 L509.5 624.92 L509 624.93 L508.5 624.94 L508 624.95 L507.5 624.97 L507 624.98 L506.5 624.99 L506 625.01 L505.5 625.02 L505 625.03 L504.5 625.05 L504 625.06 L503.5 625.08 L503 625.09 L502.5 625.11 L502 625.12 L501.5 625.14 L501 625.16 L500.5 625.17 L500 625.19 L499.5 625.21 L499 625.23 L498.5 625.25 L498 625.27 L497.5 625.28 L497 625.3 L496.5 625.32 L496 625.34 L495.5 625.37 L495 625.39 L494.5 625.41 L494 625.43 L493.5 625.45 L493 625.48 L492.5 625.5 L492 625.52 L491.5 625.55 L491 625.57 L490.5 625.6 L490 625.62 L489.5 625.65 L489 625.68 L488.5 625.7 L488 625.73 L487.5 625.76 L487 625.79 L486.5 625.82 L486 625.85 L485.5 625.88 L485 625.91 L484.5 625.94 L484 625.98 L483.5 626.01 L483 626.04 L482.5 626.08 L482 626.11 L481.5 626.15 L481 626.18 L480.5 626.22 L480 626.26 L479.5 626.3 L479 626.34 L478.5 626.38 L478 626.42 L477.5 626.46 L477 626.5 L476.5 626.54 L476 626.59 L475.5 626.63 L475 626.68 L474.5 626.72 L474 626.77 L473.5 626.82 L473 626.87 L472.5 626.92 L472 626.97 L471.5 627.02 L471 627.07 L470.5 627.13 L470 627.18 L469.5 627.24 L469 627.29 L468.5 627.35 L468 627.41 L467.5 627.47 L467 627.53 L466.5 627.59 L466 627.66 L465.5 627.72 L465 627.79 L464.5 627.85 L464 627.92 L463.5 627.99 L463 628.06 L462.5 628.13 L462 628.21 L461.5 628.28 L461 628.36 L460.5 628.44 L460 628.52 L459.5 628.6 L459 628.68 L458.5 628.76 L458 628.85 L457.5 628.93 L457 629.02 L456.5 629.11 L456 629.2 L455.5 629.3 L455 629.39 L454.5 629.49 L454 629.59 L453.5 629.69 L453 629.79 L452.5 629.9 L452 630 L451.5 630.11 L451 630.22 L450.5 630.33 L450 630.45 L449.5 630.56 L449 630.68 L448.5 630.8 L448 630.93 L447.5 631.05 L447 631.18 L446.5 631.31 L446 631.44 L445.5 631.58 L445 631.72 L444.5 631.86 L444 632 L443.5 632.14 L443 632.29 L442.5 632.44 L442 632.6 L441.5 632.75 L441 632.91 L440.5 633.07 L440 633.24 L439.5 633.41 L439 633.58 L438.5 633.75 L438 633.93 L437.5 634.11 L437 634.29 L436.5 634.48 L436 634.67 L435.5 634.87 L435 635.07 L434.5 635.27 L434 635.47 L433.5 635.68 L433 635.89 L432.5 636.11 L432 636.33 L431.5 636.55 L431 636.78 L430.5 637.02 L430 637.25 L429.5 637.49 L429 637.74 L428.5 637.99 L428 638.24 L427.5 638.5 L427 638.76 L426.5 639.03 L426 639.3 L425.5 639.58 L425 639.86 L424.5 640.15 L424 640.44 L423.5 640.74 L423 641.05 L422.5 641.35 L422 641.67 L421.5 641.99 L421 642.31 L420.5 642.64 L420 642.98 L419.5 643.32 L419 643.67 L418.5 644.02 L418 644.38 L417.5 644.75 L417 645.12 L416.5 645.5 L416 645.88 L415.5 646.28 L415 646.67 L414.5 647.08 L414 647.49 L413.5 647.91 L413 648.34 L412.5 648.77 L412 649.21 L411.5 649.66 L411 650.11 L410.5 650.57 L410 651.04 L409.5 651.52 L409 652.01 L408.5 652.5 L408 653 L407.5 653.51 L407 654.03 L406.5 654.56 L406 655.09 L405.5 655.64 L405 656.19 L404.5 656.75 L404 657.32 L403.5 657.9 L403 658.49 L402.5 659.09 L402 659.69 L401.5 660.31 L401 660.94 L400.5 661.57 L400 662.22 L399.5 662.87 L399 663.54 L398.5 664.21 L398 664.9 L397.5 665.59 L397 666.3 L396.5 667.01 L396 667.74 L395.5 668.48 L395 669.23 L394.5 669.99 L394 670.76 L393.5 671.54 L393 672.33 L392.5 673.14 L392 673.95 L391.5 674.78 L391 675.62 L390.5 676.47 L390 677.33 L389.5 678.2 L389 679.09 L388.5 679.99 L388 680.9 L387.5 681.82 L387 682.76 L386.5 683.7 L386 684.66 L385.5 685.64 L385 686.62 L384.5 687.62 L384 688.63 L383.5 689.65 L383 690.69 L382.5 691.74 L382 692.8 L381.5 693.88 L381 694.97 L380.5 696.07 L380 697.18 L379.5 698.31 L379 699.45 L378.5 700.61 L378 701.78 L377.5 702.96 L377 704.15 L376.5 705.36 L376 706.58 L375.5 707.82 L375 709.07 L374.5 710.33 L374 711.61 L373.5 712.9 L373 714.2 L372.5 715.52 L372 716.85 L371.5 718.19 L371 719.55 L370.5 720.92 L370 722.3 L369.5 723.7 L369 724.6 L368.5 724.7 L368 724.8 L367.5 724.89 L367 724.99 L366.5 725.09 L366 725.19 L365.5 725.28 L365 725.38 L364.5 725.48 L364 725.57 L363.5 725.67 L363 725.77 L362.5 725.86 L362 725.96 Z" fill="#a098e0"/>
<path d="M362 540.67 L362.95 692.54 L363.9 563.36 L364.85 711.91 L365.8 535.85 L366.75 716.58 L367.7 532.92 L368.65 735.3 L369.6 519.95 L370.55 737.34 L371.5 527.9 L372.45 715.09 L373.4 527.33 L374.35 705.11 L375.3 535.4 L376.25 702.88 L377.2 555.86 L378.15 696.92 L379.1 552.67 L380.05 703.53 L381 553.01 L381.95 694.9 L382.9 546.82 L383.85 697.24 L384.8 551.45 L385.75 685.3 L386.7 565.96 L387.65 681.99 L388.6 578.65 L389.55 659.34 L390.5 584.09 L391.45 662.47 L392.4 590.52 L393.35 652.37 L394.3 592.66 L395.25 662.82 L396.2 590.42 L397.15 656.95 L398.1 590.39 L399.05 654.69 L400 598.23 L400.95 648.46 L401.9 604.88 L402.85 642.08 L403.8 606.84 L404.75 646.74 L405.7 602.35 L406.65 643.13 L407.6 601.02 L408.55 646.49 L409.5 597.26 L410.45 642.81 L411.4 602.98 L412.35 643.84 L413.3 597.12 L414.25 644.35 L415.2 605.31 L416.15 642.4 L417.1 601.28 L418.05 640.87 L419 605.16 L419.95 644.79 L420.9 602.54 L421.85 643.54 L422.8 604.51 L423.75 642.25 L424.7 604.76 L425.65 640.51 L426.6 607.06 L427.55 634.27 L428.5 609.33 L429.45 635.28 L430.4 610.66 L431.35 635.9 L432.3 611.77 L433.25 633.05 L434.2 611.09 L435.15 633.75 L436.1 612.75 L437.05 632.61 L438 614.43 L438.95 629.11 L439.9 614.84 L440.85 629.89 L441.8 616.32 L442.75 630.46 L443.7 617.71 L444.65 627.29 L445.6 618.23 L446.55 628.09 L447.5 617.7 L448.45 629.06 L449.4 618.96 L450.35 628.72 L451.3 619.27 L452.25 627.89 L453.2 619.12 L454.15 626.92 L455.1 619.44 L456.05 626.73 L457 619.55 L457.95 626.53 L458.9 618.75 L459.85 628.79 L460.8 617.53 L461.75 628.65 L462.7 618.13 L463.65 627.47 L464.6 618.25 L465.55 627.25 L466.5 619.38 L467.45 626.77 L468.4 619.56 L469.35 626.64 L470.3 619.57 L471.25 626.57 L472.2 619.49 L473.15 627.19 L474.1 619.37 L475.05 626.87 L476 619.5 L476.95 626.74 L477.9 620.48 L478.85 625.93 L479.8 620.38 L480.75 625.65 L481.7 620.9 L482.65 625.82 L483.6 621.17 L484.55 625.45 L485.5 621.09 L486.45 625.8 L487.4 621.48 L488.35 625.13 L489.3 621.37 L490.25 625.13 L491.2 621.46 L492.15 624.94 L493.1 622.21 L494.05 624.61 L495 622.03 L495.95 624.33 L496.9 621.76 L497.85 624.44 L498.8 622.1 L499.75 624.68 L500.7 621.9 L501.65 624.64 L502.6 621.63 L503.55 624.69 L504.5 621.56 L505.45 624.47 L506.4 622.18 L507.35 624.35 L508.3 622.03 L509.25 624.4 L510.2 621.65 L511.15 624.67 L512.1 621.85 L513.05 624.99 L514 621.5 L514.95 624.94 L515.9 621.55 L516.85 624.85 L517.8 621.71 L518.75 624.79 L519.7 621.77 L520.65 624.6 L521.6 621.79 L522.55 624.39 L523.5 621.79 L524.45 624.64 L525.4 621.67 L526.35 624.51 L527.3 621.61 L528.25 624.61 L529.2 622.06 L530.15 624.17 L531.1 622.13" fill="none" stroke="#4e42b8" stroke-width="0.8" opacity="0.75"/>
<path d="M362.76 554.22 V615.29 M364.33 572.68 V629.61 M366.85 564.64 V622.32 M369.49 535.83 V597.48 M371.28 660.81 V692.48 M373.75 553.34 V620.89 M376.09 609.47 V672.05 M379.05 546.31 V583.96 M381 621.92 V650.14 M383.03 551.87 V567.49 M385.55 564.18 V584.07 M387.63 567.65 V580.92 M390.53 601.33 V618.26 M392.61 571.68 V588.52 M395.16 635.5 V660.32 M396.59 597.88 V607.64 M399.02 582.65 V593.71 M401.73 590.25 V600.91 M404.3 604.58 V617.45 M405.79 627.02 V644.98 M408.55 619.1 V626.7 M410.56 618.02 V637.17 M413.42 620.56 V632.35 M414.92 629.22 V634.91 M417.33 622.53 V636.13 M420.29 615.77 V621.62 M421.84 626.89 V640.11 M424.34 626.94 V634.01 M426.71 618.45 V621.76 M429.14 612.43 V620.74 M431.5 626.18 V635.12 M433.62 615.4 V624 M436.1 612.99 V615.62 M438.89 621.17 V623.61 M440.71 620.22 V624.45 M443.45 626.23 V628.66 M444.95 619.42 V624.85 M447.72 623.38 V627.3 M449.61 624.3 V625.86 M452.4 618.16 V621.17 M454.98 621.63 V623.09 M456.73 622.74 V624.12 M458.85 617.67 V620.34 M461.28 621.64 V623.48 M463.86 619.5 V622.69 M466.46 621.8 V623.76 M468.66 620.67 V623.23 M470.39 623.23 V624.72 M473 624.32 V625.18 M475.51 622.35 V623.72 M477.35 620.16 V621.27 M479.92 620.47 V622.16 M482.56 624.3 V626.16 M484.71 621.09 V623.01 M486.4 623.79 V625.52 M489.12 622.51 V623.28 M491.32 621.76 V622.4 M493.23 623.48 V625.03 M495.54 621.01 V621.75 M497.83 621.63 V622.68 M500.42 622.39 V623 M502.96 622.04 V622.82 M505.06 623.7 V624.31 M507.62 622.17 V623.35 M509.59 622.68 V623.81 M512.17 621.72 V622.17 M514.79 621.61 V622.19 M517.06 621.61 V622.07 M518.61 621.8 V622.49 M521.29 622.33 V622.73 M523.81 623.39 V624.13 M525.44 622.83 V623.62 M528.03 623.51 V624.11 M530.41 621.95 V622.67" stroke="#b0a9ea" stroke-width="0.8" opacity="0.6"/>
<path d="M362 509.99 V750.96 M363.3 522.11 V760.28 M364.6 511.62 V738.98 M365.9 518.96 V751.79 M367.2 524.74 V746.34 M368.5 512.48 V741.52 M369.8 510.99 V737.66 M371.1 523.93 V727.16 M372.4 517.99 V724.44 M373.7 526.39 V723.71" stroke="#7a70cf" stroke-width="0.9" opacity="0.8"/>
<path d="M122 560.64 L123 561.63 L124 562.95 L125 564.25 L126 565.53 L127 566.79 L128 568.04 L129 569.26 L130 570.46 L131 571.64 L132 572.81 L133 573.95 L134 575.07 L135 576.18 L136 577.26 L137 578.32 L138 579.37 L139 580.39 L140 581.4 L141 582.38 L142 583.35 L143 584.3 L144 585.23 L145 586.14 L146 587.03 L147 587.91 L148 588.77 L149 589.61 L150 590.43 L151 591.23 L152 592.02 L153 592.79 L154 593.54 L155 594.28 L156 595 L157 595.7 L158 596.39 L159 597.06 L160 597.72 L161 598.36 L162 598.99 L163 599.61 L164 600.2 L165 600.79 L166 601.36 L167 601.92 L168 602.46 L169 602.99 L170 603.51 L171 604.02 L172 604.51 L173 604.99 L174 605.46 L175 605.92 L176 606.36 L177 606.8 L178 607.22 L179 607.63 L180 608.04 L181 608.43 L182 608.81 L183 609.18 L184 609.55 L185 609.9 L186 610.24 L187 610.58 L188 610.91 L189 611.22 L190 611.53 L191 611.84 L192 612.13 L193 612.42 L194 612.69 L195 612.96 L196 613.23 L197 613.48 L198 613.73 L199 613.98 L200 614.21 L201 614.44 L202 614.67 L203 614.88 L204 615.09 L205 615.3 L206 615.5 L207 615.7 L208 615.88 L209 616.07 L210 616.25 L211 616.42 L212 616.59 L213 616.76 L214 616.92 L215 617.07 L216 617.22 L217 617.37 L218 617.51 L219 617.65 L220 617.79 L221 617.92 L222 618.05 L223 618.17 L224 618.29 L225 618.41 L226 618.52 L227 618.63 L228 618.74 L229 618.85 L230 618.95 L231 619.05 L232 619.14 L233 619.24 L234 619.33 L235 619.42 L236 619.5 L237 619.59 L238 619.67 L239 619.75 L240 619.82 L241 619.9 L242 619.97 L243 620.04 L244 620.11 L245 620.17 L246 620.24 L247 620.3 L248 620.36 L249 620.42 L250 620.48 L251 620.54 L252 620.59 L253 620.64 L254 620.69 L255 620.74 L256 620.79 L257 620.84 L258 620.88 L259 620.93 L260 620.97 L261 621.01 L262 621.05 L263 621.09 L264 621.13 L265 621.17 L266 621.21 L267 621.24 L268 621.28 L269 621.31 L270 621.34 L271 621.37 L272 621.4 L273 621.43 L274 621.46 L275 621.49 L276 621.52 L277 621.54 L278 621.57 L279 621.59 L280 621.62 L281 621.64 L282 621.66 L283 621.68 L284 621.7 L285 621.72 L286 621.74 L287 621.76 L288 621.78 L289 621.8 L290 621.82 L291 621.83 L292 621.85 L293 621.87 L294 621.88 L295 621.9 L296 621.91 L297 621.92 L298 621.94 L299 621.95 L300 621.96 L301 621.97 L302 621.98 L303 621.99 L304 622 L305 622.01 L306 622.02 L307 622.03 L308 622.04 L309 622.05 L310 622.06 L311 622.06 L312 622.07 L313 622.08 L314 622.08 L315 622.09 L316 622.09 L317 622.1 L318 622.1 L319 622.11 L320 622.11 L321 622.12 L322 622.12 L323 622.12 L324 622.12 L325 622.13 L326 622.13 L327 622.13 L328 622.13 L329 622.13 L330 622.13 L331 622.13 L332 622.13 L333 622.13 L334 622.13 L335 622.12 L336 622.12 L337 622.12 L338 622.12 L339 622.11 L340 622.11 L341 622.1 L342 622.1 L343 622.09 L344 622.09 L345 622.08 L346 622.07 L347 622.07 L348 622.06 L349 622.05 L350 622.04 L351 622.04 L352 622.04" fill="none" stroke="#d63a24" stroke-width="1.5"/>
<path d="M368.9 518.64 L369.9 520.74 L370.9 523.59 L371.9 526.38 L372.9 529.11 L373.9 531.79 L374.9 534.42 L375.9 536.98 L376.9 539.49 L377.9 541.95 L378.9 544.35 L379.9 546.7 L380.9 548.99 L381.9 551.22 L382.9 553.41 L383.9 555.54 L384.9 557.61 L385.9 559.64 L386.9 561.61 L387.9 563.53 L388.9 565.4 L389.9 567.22 L390.9 568.99 L391.9 570.71 L392.9 572.38 L393.9 574.01 L394.9 575.59 L395.9 577.13 L396.9 578.62 L397.9 580.07 L398.9 581.48 L399.9 582.84 L400.9 584.17 L401.9 585.45 L402.9 586.7 L403.9 587.9 L404.9 589.07 L405.9 590.21 L406.9 591.31 L407.9 592.37 L408.9 593.4 L409.9 594.4 L410.9 595.36 L411.9 596.3 L412.9 597.2 L413.9 598.07 L414.9 598.92 L415.9 599.73 L416.9 600.53 L417.9 601.29 L418.9 602.03 L419.9 602.74 L420.9 603.43 L421.9 604.1 L422.9 604.74 L423.9 605.36 L424.9 605.96 L425.9 606.54 L426.9 607.1 L427.9 607.64 L428.9 608.16 L429.9 608.66 L430.9 609.15 L431.9 609.62 L432.9 610.07 L433.9 610.51 L434.9 610.93 L435.9 611.33 L436.9 611.72 L437.9 612.1 L438.9 612.47 L439.9 612.82 L440.9 613.15 L441.9 613.48 L442.9 613.8 L443.9 614.1 L444.9 614.39 L445.9 614.67 L446.9 614.95 L447.9 615.21 L448.9 615.46 L449.9 615.7 L450.9 615.94 L451.9 616.17 L452.9 616.38 L453.9 616.59 L454.9 616.8 L455.9 616.99 L456.9 617.18 L457.9 617.36 L458.9 617.54 L459.9 617.7 L460.9 617.87 L461.9 618.02 L462.9 618.17 L463.9 618.32 L464.9 618.46 L465.9 618.59 L466.9 618.72 L467.9 618.85 L468.9 618.97 L469.9 619.09 L470.9 619.2 L471.9 619.31 L472.9 619.41 L473.9 619.51 L474.9 619.61 L475.9 619.7 L476.9 619.79 L477.9 619.88 L478.9 619.96 L479.9 620.04 L480.9 620.12 L481.9 620.19 L482.9 620.26 L483.9 620.33 L484.9 620.4 L485.9 620.46 L486.9 620.52 L487.9 620.58 L488.9 620.64 L489.9 620.7 L490.9 620.75 L491.9 620.8 L492.9 620.85 L493.9 620.9 L494.9 620.94 L495.9 620.98 L496.9 621.03 L497.9 621.07 L498.9 621.11 L499.9 621.14 L500.9 621.18 L501.9 621.21 L502.9 621.25 L503.9 621.28 L504.9 621.31 L505.9 621.34 L506.9 621.36 L507.9 621.39 L508.9 621.42 L509.9 621.44 L510.9 621.46 L511.9 621.48 L512.9 621.5 L513.9 621.52 L514.9 621.54 L515.9 621.56 L516.9 621.58 L517.9 621.59 L518.9 621.61 L519.9 621.62 L520.9 621.63 L521.9 621.65 L522.9 621.66 L523.9 621.67 L524.9 621.68 L525.9 621.69 L526.9 621.69 L527.9 621.7 L528.9 621.71 L529.9 621.71 L530.9 621.71 L531.9 621.72" fill="none" stroke="#d63a24" stroke-width="1.5"/>
<path d="M122 685.76 L123 684.77 L124 683.45 L125 682.15 L126 680.87 L127 679.61 L128 678.36 L129 677.14 L130 675.94 L131 674.76 L132 673.59 L133 672.45 L134 671.33 L135 670.22 L136 669.14 L137 668.08 L138 667.03 L139 666.01 L140 665 L141 664.02 L142 663.05 L143 662.1 L144 661.17 L145 660.26 L146 659.37 L147 658.49 L148 657.63 L149 656.79 L150 655.97 L151 655.17 L152 654.38 L153 653.61 L154 652.86 L155 652.12 L156 651.4 L157 650.7 L158 650.01 L159 649.34 L160 648.68 L161 648.04 L162 647.41 L163 646.79 L164 646.2 L165 645.61 L166 645.04 L167 644.48 L168 643.94 L169 643.41 L170 642.89 L171 642.38 L172 641.89 L173 641.41 L174 640.94 L175 640.48 L176 640.04 L177 639.6 L178 639.18 L179 638.77 L180 638.36 L181 637.97 L182 637.59 L183 637.22 L184 636.85 L185 636.5 L186 636.16 L187 635.82 L188 635.49 L189 635.18 L190 634.87 L191 634.56 L192 634.27 L193 633.98 L194 633.71 L195 633.44 L196 633.17 L197 632.92 L198 632.67 L199 632.42 L200 632.19 L201 631.96 L202 631.73 L203 631.52 L204 631.31 L205 631.1 L206 630.9 L207 630.7 L208 630.52 L209 630.33 L210 630.15 L211 629.98 L212 629.81 L213 629.64 L214 629.48 L215 629.33 L216 629.18 L217 629.03 L218 628.89 L219 628.75 L220 628.61 L221 628.48 L222 628.35 L223 628.23 L224 628.11 L225 627.99 L226 627.88 L227 627.77 L228 627.66 L229 627.55 L230 627.45 L231 627.35 L232 627.26 L233 627.16 L234 627.07 L235 626.98 L236 626.9 L237 626.81 L238 626.73 L239 626.65 L240 626.58 L241 626.5 L242 626.43 L243 626.36 L244 626.29 L245 626.23 L246 626.16 L247 626.1 L248 626.04 L249 625.98 L250 625.92 L251 625.86 L252 625.81 L253 625.76 L254 625.71 L255 625.66 L256 625.61 L257 625.56 L258 625.52 L259 625.47 L260 625.43 L261 625.39 L262 625.35 L263 625.31 L264 625.27 L265 625.23 L266 625.19 L267 625.16 L268 625.12 L269 625.09 L270 625.06 L271 625.03 L272 625 L273 624.97 L274 624.94 L275 624.91 L276 624.88 L277 624.86 L278 624.83 L279 624.81 L280 624.78 L281 624.76 L282 624.74 L283 624.72 L284 624.7 L285 624.68 L286 624.66 L287 624.64 L288 624.62 L289 624.6 L290 624.58 L291 624.57 L292 624.55 L293 624.53 L294 624.52 L295 624.5 L296 624.49 L297 624.48 L298 624.46 L299 624.45 L300 624.44 L301 624.43 L302 624.42 L303 624.41 L304 624.4 L305 624.39 L306 624.38 L307 624.37 L308 624.36 L309 624.35 L310 624.34 L311 624.34 L312 624.33 L313 624.32 L314 624.32 L315 624.31 L316 624.31 L317 624.3 L318 624.3 L319 624.29 L320 624.29 L321 624.28 L322 624.28 L323 624.28 L324 624.28 L325 624.27 L326 624.27 L327 624.27 L328 624.27 L329 624.27 L330 624.27 L331 624.27 L332 624.27 L333 624.27 L334 624.27 L335 624.28 L336 624.28 L337 624.28 L338 624.28 L339 624.29 L340 624.29 L341 624.3 L342 624.3 L343 624.31 L344 624.31 L345 624.32 L346 624.33 L347 624.33 L348 624.34 L349 624.35 L350 624.36 L351 624.36 L352 624.36" fill="none" stroke="#d63a24" stroke-width="1.5"/>
<path d="M368.9 727.76 L369.9 725.66 L370.9 722.81 L371.9 720.02 L372.9 717.29 L373.9 714.61 L374.9 711.98 L375.9 709.42 L376.9 706.91 L377.9 704.45 L378.9 702.05 L379.9 699.7 L380.9 697.41 L381.9 695.18 L382.9 692.99 L383.9 690.86 L384.9 688.79 L385.9 686.76 L386.9 684.79 L387.9 682.87 L388.9 681 L389.9 679.18 L390.9 677.41 L391.9 675.69 L392.9 674.02 L393.9 672.39 L394.9 670.81 L395.9 669.27 L396.9 667.78 L397.9 666.33 L398.9 664.92 L399.9 663.56 L400.9 662.23 L401.9 660.95 L402.9 659.7 L403.9 658.5 L404.9 657.33 L405.9 656.19 L406.9 655.09 L407.9 654.03 L408.9 653 L409.9 652 L410.9 651.04 L411.9 650.1 L412.9 649.2 L413.9 648.33 L414.9 647.48 L415.9 646.67 L416.9 645.87 L417.9 645.11 L418.9 644.37 L419.9 643.66 L420.9 642.97 L421.9 642.3 L422.9 641.66 L423.9 641.04 L424.9 640.44 L425.9 639.86 L426.9 639.3 L427.9 638.76 L428.9 638.24 L429.9 637.74 L430.9 637.25 L431.9 636.78 L432.9 636.33 L433.9 635.89 L434.9 635.47 L435.9 635.07 L436.9 634.68 L437.9 634.3 L438.9 633.93 L439.9 633.58 L440.9 633.25 L441.9 632.92 L442.9 632.6 L443.9 632.3 L444.9 632.01 L445.9 631.73 L446.9 631.45 L447.9 631.19 L448.9 630.94 L449.9 630.7 L450.9 630.46 L451.9 630.23 L452.9 630.02 L453.9 629.81 L454.9 629.6 L455.9 629.41 L456.9 629.22 L457.9 629.04 L458.9 628.86 L459.9 628.7 L460.9 628.53 L461.9 628.38 L462.9 628.23 L463.9 628.08 L464.9 627.94 L465.9 627.81 L466.9 627.68 L467.9 627.55 L468.9 627.43 L469.9 627.31 L470.9 627.2 L471.9 627.09 L472.9 626.99 L473.9 626.89 L474.9 626.79 L475.9 626.7 L476.9 626.61 L477.9 626.52 L478.9 626.44 L479.9 626.36 L480.9 626.28 L481.9 626.21 L482.9 626.14 L483.9 626.07 L484.9 626 L485.9 625.94 L486.9 625.88 L487.9 625.82 L488.9 625.76 L489.9 625.7 L490.9 625.65 L491.9 625.6 L492.9 625.55 L493.9 625.5 L494.9 625.46 L495.9 625.42 L496.9 625.37 L497.9 625.33 L498.9 625.29 L499.9 625.26 L500.9 625.22 L501.9 625.19 L502.9 625.15 L503.9 625.12 L504.9 625.09 L505.9 625.06 L506.9 625.04 L507.9 625.01 L508.9 624.98 L509.9 624.96 L510.9 624.94 L511.9 624.92 L512.9 624.9 L513.9 624.88 L514.9 624.86 L515.9 624.84 L516.9 624.82 L517.9 624.81 L518.9 624.79 L519.9 624.78 L520.9 624.77 L521.9 624.75 L522.9 624.74 L523.9 624.73 L524.9 624.72 L525.9 624.71 L526.9 624.71 L527.9 624.7 L528.9 624.69 L529.9 624.69 L530.9 624.69 L531.9 624.68" fill="none" stroke="#d63a24" stroke-width="1.5"/>
<path d="M99 764.89 L101 763.99 L103 763.08 L105 762.17 L107 761.26 L109 760.35 L111 759.43 L113 758.51 L115 757.59 L117 756.66 L119 755.74 L121 754.81 L123 753.87 L125 752.93 L127 751.99 L129 751.05 L131 750.1 L133 749.15 L135 748.2 L137 747.25 L139 746.29 L141 745.33 L143 744.36 L145 743.39 L147 742.42 L149 741.45 L151 740.47 L153 739.49 L155 738.5 L157 737.51 L159 736.52 L161 735.53 L163 734.53 L165 733.53 L167 732.53 L169 731.52 L171 730.51 L173 729.49 L175 728.47 L177 727.45 L179 726.42 L181 725.39 L183 724.36 L185 723.32 L187 722.28 L189 721.24 L191 720.19 L193 719.14 L195 718.09 L197 717.03 L199 715.97 L201 714.9 L203 713.83 L205 712.76 L207 711.68 L209 710.6 L211 709.51 L213 708.42 L215 707.33 L217 706.23 L219 705.13 L221 704.03 L223 702.92 L225 701.81 L227 700.69 L229 699.57 L231 698.44 L233 697.32 L235 696.18 L237 695.05 L239 693.9 L241 692.76 L243 691.61 L245 690.45 L247 689.3 L249 688.13 L251 686.97 L253 685.8 L255 684.62 L257 683.44 L259 682.26 L261 681.07 L263 679.88 L265 678.68 L267 677.48 L269 676.27 L271 675.06 L273 673.85 L275 672.63 L277 671.4 L279 670.17 L281 668.94 L283 667.7 L285 666.46 L287 665.21 L289 663.96 L291 662.71 L293 661.45 L295 660.18 L297 658.91 L299 657.63 L301 656.35 L303 655.07 L305 653.78 L307 652.49 L309 651.19 L311 649.88 L313 648.57 L315 647.26 L317 645.94 L319 644.62 L321 643.29 L323 641.95 L325 640.62 L327 639.27 L329 637.92 L331 636.57 L333 635.21 L335 633.85 L337 632.48 L339 631.1 L341 629.72 L343 628.34 L345 626.95 L347 625.55 L349 624.15 L351 622.75 L353 621.34 L355 619.92 L357 618.5 L359 617.07 L361 615.64 L363 614.2 L365 612.76 L367 611.31 L369 609.86 L371 608.4 L373 606.93 L375 605.46 L377 603.98 L379 602.5 L381 601.02 L383 599.52 L385 598.02 L387 596.52 L389 595.01 L391 593.5 L393 591.97 L395 590.45 L397 588.92 L399 587.38 L401 585.83 L403 584.28 L405 582.73 L407 581.17 L409 579.6 L411 578.03 L413 576.45 L415 574.86 L417 573.27 L419 571.67 L421 570.07 L423 568.46 L425 566.85 L427 565.23 L429 563.6 L431 561.97 L433 560.33 L435 558.68 L437 557.03 L439 555.37 L441 553.71 L443 552.04 L445 550.36 L447 548.68 L449 546.99 L451 545.3 L453 543.59 L455 541.89 L457 540.17 L459 538.45 L461 536.73 L463 534.99 L465 533.25 L467 531.51 L469 529.75 L471 528 L473 526.23 L475 524.46 L477 522.68 L479 520.89 L481 519.1 L483 517.3 L485 515.5 L487 513.69 L489 511.87 L491 510.05 L493 508.21 L495 506.38 L497 504.53 L499 502.68 L501 500.82 L503 498.95 L505 497.08 L507 495.2 L509 493.32 L511 491.43 L513 489.53 L515 487.62 L517 485.71 L519 483.78 L521 481.86 L523 479.92 L525 477.98 L527 476.03 L529 474.08 L531 472.11" fill="none" stroke="#2d6a7c" stroke-width="1.6"/>
</g>
<path d="M203.2 719.5 H230" stroke="#2d6a7c" stroke-width="1.6"/>
<path d="M228.5 715.8 L239 719.5 L228.5 723.2 Z" fill="#2d6a7c"/>
<rect x="99.4" y="463.0" width="432.9" height="320.9" fill="none" stroke="#1c1c1c" stroke-width="1.6"/>
<path d="M99.4 778.6 h3.8 M99.4 747.6 h6.8 M99.4 716.6 h3.8 M99.4 685.6 h6.8 M99.4 654.6 h3.8 M99.4 623.6 h6.8 M99.4 592.6 h3.8 M99.4 561.6 h6.8 M99.4 530.6 h3.8 M99.4 499.6 h6.8 M99.4 468.6 h3.8 M532.3 769.5 h-3.8 M532.3 740.2 h-6.8 M532.3 710.9 h-3.8 M532.3 681.6 h-6.8 M532.3 652.3 h-3.8 M532.3 623 h-6.8 M532.3 593.7 h-3.8 M532.3 564.4 h-6.8 M532.3 535.1 h-3.8 M532.3 505.8 h-6.8 M532.3 476.5 h-3.8 M515.1 463 v6.8 M480.4 463 v3.8 M445.7 463 v6.8 M411 463 v3.8 M376.3 463 v6.8 M341.6 463 v3.8 M306.9 463 v6.8 M272.2 463 v3.8 M237.5 463 v6.8 M202.8 463 v3.8 M168.1 463 v6.8 M133.4 463 v3.8 M106.2 783.9 v-6.8 M141.69 783.9 v-3.8 M177.18 783.9 v-6.8 M212.67 783.9 v-3.8 M248.16 783.9 v-6.8 M283.65 783.9 v-3.8 M319.14 783.9 v-6.8 M354.63 783.9 v-3.8 M390.12 783.9 v-6.8 M425.61 783.9 v-3.8 M461.1 783.9 v-6.8 M496.59 783.9 v-3.8" stroke="#1c1c1c" stroke-width="1.6" fill="none"/>
<g font-family="Liberation Sans, sans-serif" font-size="18.3" fill="#111">
<text x="87.6" y="506" text-anchor="end">10</text>
<text x="87.6" y="568" text-anchor="end">5</text>
<text x="87.6" y="630" text-anchor="end">0</text>
<text x="87.6" y="692" text-anchor="end">-5</text>
<text x="87.6" y="754" text-anchor="end">-10</text>
<text x="544" y="745.7">12</text>
<text x="544" y="687.1">14</text>
<text x="544" y="628.5">16</text>
<text x="544" y="569.9">18</text>
<text x="544" y="511.3">20</text>
<text x="100.2" y="450.2" text-anchor="middle">1640</text>
<text x="169.6" y="450.2" text-anchor="middle">1620</text>
<text x="239" y="450.2" text-anchor="middle">1600</text>
<text x="308.4" y="450.2" text-anchor="middle">1580</text>
<text x="377.8" y="450.2" text-anchor="middle">1560</text>
<text x="447.2" y="450.2" text-anchor="middle">1540</text>
<text x="516.6" y="450.2" text-anchor="middle">1520</text>
<text x="106.2" y="809" text-anchor="middle">7</text>
<text x="177.18" y="809" text-anchor="middle">8</text>
<text x="248.16" y="809" text-anchor="middle">9</text>
<text x="319.14" y="809" text-anchor="middle">10</text>
<text x="390.12" y="809" text-anchor="middle">11</text>
<text x="461.1" y="809" text-anchor="middle">12</text>
<text x="532.08" y="809" text-anchor="middle">13</text>
</g>
<text font-family="Liberation Sans, sans-serif" font-size="19.1" fill="#111" x="331.3" y="841.5" text-anchor="middle">time (s)</text>
<text font-family="Liberation Sans, sans-serif" font-size="18.5" fill="#111" x="286.8" y="425.5" xml:space="preserve"><tspan font-style="italic">T</tspan>  (K)</text>
<text font-family="Liberation Sans, sans-serif" font-size="18.9" fill="#111" transform="translate(47.2 607.3) rotate(-90)" text-anchor="middle">Y-rad (pixel)</text>
<text font-family="Liberation Sans, sans-serif" font-size="18.1" fill="#111" transform="translate(596.5 601.3) rotate(-90)" text-anchor="middle"><tspan font-style="italic">η</tspan> (mPa.s)</text>
</svg>
</body></html>
